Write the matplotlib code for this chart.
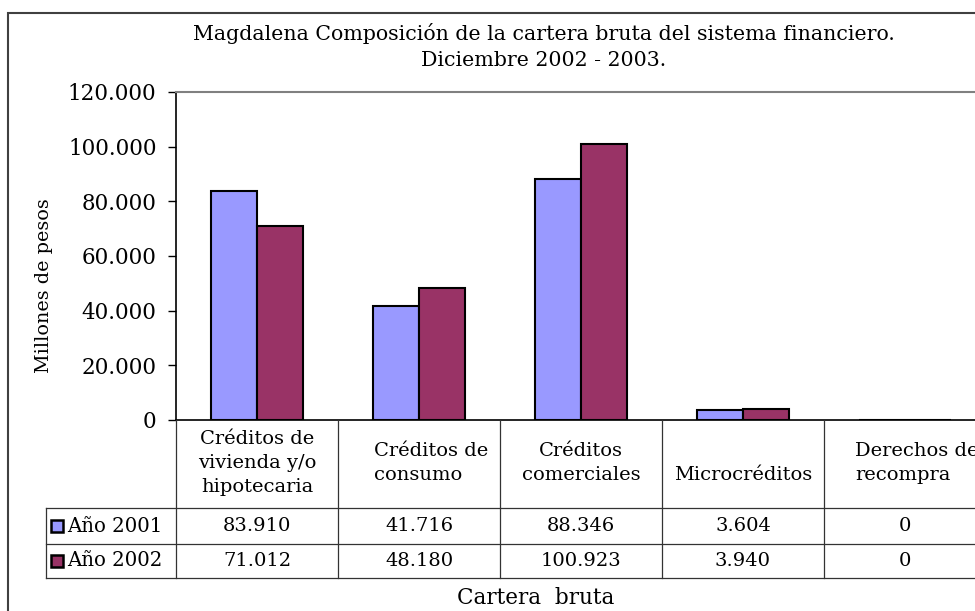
import matplotlib.pyplot as plt
from matplotlib.patches import Rectangle
from matplotlib.ticker import FuncFormatter

plt.rcParams['font.family'] = ['DejaVu Serif']

categorias = ['Créditos de\nvivienda y/o\nhipotecaria', 'Créditos de\nconsumo',
              'Créditos\ncomerciales', '\nMicrocréditos', 'Derechos de\nrecompra']
alineacion = ['center', 'left', 'center', 'center', 'left']
series = ['Año 2001', 'Año 2002']
valores_2001 = [83910, 41716, 88346, 3604, 0]
valores_2002 = [71012, 48180, 100923, 3940, 0]
colores = ['#9999FF', '#993366']
titulo = 'Magdalena Composición de la cartera bruta del sistema financiero.\nDiciembre 2002 - 2003.'

W, H = 975, 611
fig = plt.figure(figsize=(W / 100, H / 100), dpi=100)

# marco exterior del grafico (se sale por derecha y abajo)
fig.add_artist(Rectangle((8 / W, 1 - 660 / H), 1100 / W, 647 / H, transform=fig.transFigure,
                         fill=False, edgecolor='#404040', linewidth=1.5))

ax = fig.add_axes([176 / W, 1 - 420 / H, (986 - 176) / W, (420 - 92) / H])
x = list(range(len(categorias)))
w = 0.287
datos = [valores_2001, valores_2002]
for i, vals in enumerate(datos):
    ax.bar([v + (i - 0.5) * w for v in x], vals, width=w, color=colores[i],
           edgecolor='black', linewidth=1.5)
ax.set_xlim(-0.5, 4.5)
ax.set_ylim(0, 120000)
ax.set_yticks(range(0, 120001, 20000))
ax.yaxis.set_major_formatter(FuncFormatter(lambda v, p: f'{v:,.0f}'.replace(',', '.')))
ax.tick_params(axis='y', direction='out', length=6, width=1, labelsize=15.5, pad=8)
ax.set_xticks([])
for s in ['top', 'right']:
    ax.spines[s].set_color('#808080')
    ax.spines[s].set_linewidth(1.5)
for s in ['left', 'bottom']:
    ax.spines[s].set_color('black')
    ax.spines[s].set_linewidth(1.2)
fig.text(44 / W, 1 - 286 / H, 'Millones de pesos', rotation=90, ha='center', va='center', fontsize=13.8)

fig.text(544 / W, 1 - 46.5 / H, titulo, ha='center', va='center', fontsize=14.8, linespacing=1.45)

# tabla de datos
tab = fig.add_axes([176 / W, 1 - 578 / H, (986 - 176) / W, (578 - 420) / H])
tab.set_xlim(-0.5, 4.5)
tab.set_ylim(578, 420)
tab.axis('off')
lc = '#333333'
x_leg = -0.5 - 130 / 162
for b in range(len(categorias) + 1):
    tab.plot([b - 0.5, b - 0.5], [420, 578], color=lc, lw=0.9, clip_on=False)
for yy in [508, 544, 578]:
    tab.plot([x_leg, 4.5], [yy, yy], color=lc, lw=0.9, clip_on=False)
tab.plot([x_leg, x_leg], [508, 578], color=lc, lw=0.9, clip_on=False)

for i, cat in enumerate(categorias):
    dx = 12 / 162 if alineacion[i] == 'left' else 0
    tab.text(i + dx, 463, cat, ha='center', va='center', fontsize=14,
             multialignment=alineacion[i], linespacing=1.4, clip_on=False)

filas_y = [526, 561]
for j, vals in enumerate(datos):
    tab.plot([x_leg + 11 / 162], [filas_y[j]], marker='s', markersize=8.5,
             markerfacecolor=colores[j], markeredgecolor='black', markeredgewidth=1.8, clip_on=False)
    tab.text(x_leg + 21 / 162, filas_y[j], series[j], ha='left', va='center', fontsize=14.2, clip_on=False)
    for i, v in enumerate(vals):
        tab.text(i, filas_y[j], f'{v:,.0f}'.replace(',', '.'), ha='center', va='center',
                 fontsize=14, clip_on=False)

fig.text(536 / W, 1 - 598 / H, 'Cartera  bruta', ha='center', va='center', fontsize=15.5)

fig.savefig('out.png', dpi=100)
